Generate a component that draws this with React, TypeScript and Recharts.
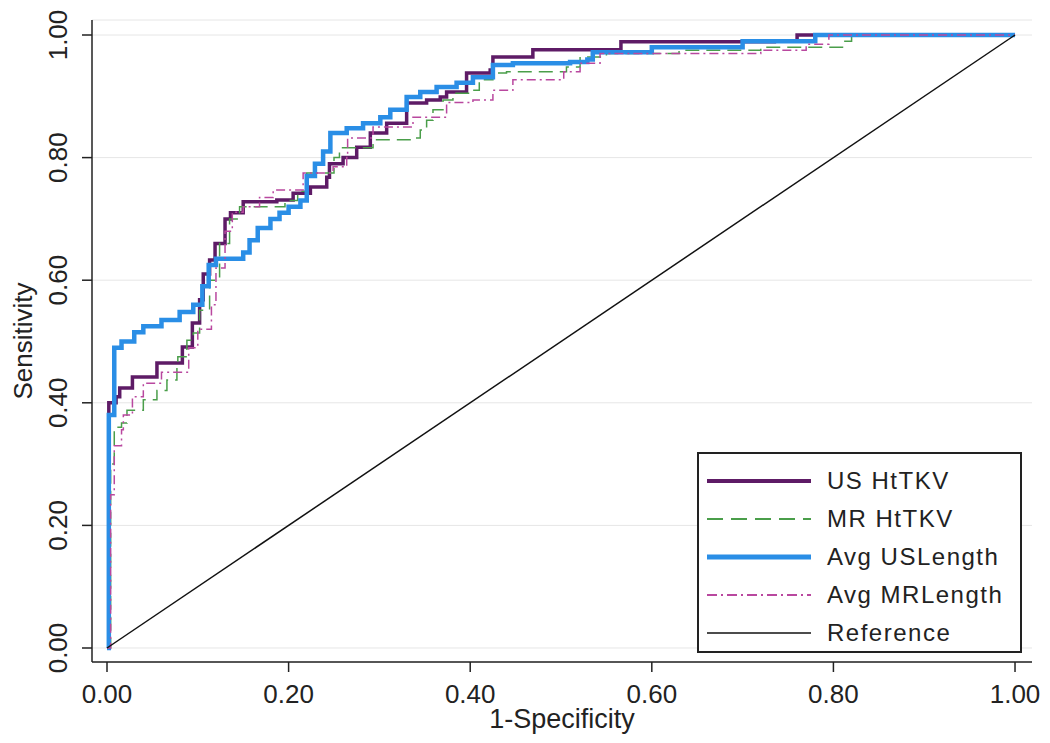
import React from 'react'
import { LineChart, Line, XAxis, YAxis, CartesianGrid, Legend, Label } from 'recharts'

// ROC points: [1-specificity, sensitivity]
const usHtTKV: [number, number][] = [
  [0, 0], [0.002, 0.4], [0.01, 0.41], [0.014, 0.424], [0.028, 0.442], [0.055, 0.465],
  [0.083, 0.491], [0.094, 0.53], [0.102, 0.568], [0.106, 0.61], [0.113, 0.633], [0.119, 0.66],
  [0.13, 0.7], [0.136, 0.71], [0.15, 0.728], [0.187, 0.731], [0.205, 0.742], [0.224, 0.752],
  [0.242, 0.768], [0.245, 0.79], [0.26, 0.8], [0.275, 0.817], [0.29, 0.84], [0.308, 0.856],
  [0.33, 0.889], [0.352, 0.894], [0.367, 0.899], [0.374, 0.907], [0.396, 0.938], [0.422, 0.943],
  [0.425, 0.964], [0.466, 0.964], [0.469, 0.976], [0.565, 0.976], [0.566, 0.989], [0.735, 0.99],
  [0.76, 1], [1, 1],
]

const mrHtTKV: [number, number][] = [
  [0, 0], [0.004, 0.3], [0.008, 0.36], [0.016, 0.367], [0.022, 0.388], [0.04, 0.405],
  [0.055, 0.42], [0.066, 0.437], [0.077, 0.458], [0.078, 0.475], [0.088, 0.502], [0.095, 0.514],
  [0.102, 0.551], [0.113, 0.6], [0.124, 0.66], [0.135, 0.7], [0.146, 0.72], [0.168, 0.72],
  [0.196, 0.73], [0.21, 0.745], [0.22, 0.775], [0.25, 0.8], [0.256, 0.816], [0.293, 0.829],
  [0.337, 0.832], [0.345, 0.845], [0.352, 0.861], [0.359, 0.878], [0.37, 0.894], [0.381, 0.905],
  [0.403, 0.91], [0.41, 0.927], [0.425, 0.938], [0.44, 0.94], [0.506, 0.948], [0.521, 0.964],
  [0.55, 0.97], [0.63, 0.975], [0.72, 0.98], [0.81, 0.99], [0.82, 1], [1, 1],
]

const avgUSLength: [number, number][] = [
  [0, 0], [0.002, 0.38], [0.008, 0.49], [0.016, 0.5], [0.03, 0.515], [0.04, 0.525],
  [0.06, 0.535], [0.08, 0.548], [0.095, 0.56], [0.105, 0.59], [0.112, 0.625], [0.12, 0.635],
  [0.15, 0.645], [0.157, 0.665], [0.166, 0.685], [0.18, 0.7], [0.19, 0.71], [0.2, 0.72],
  [0.213, 0.73], [0.22, 0.77], [0.229, 0.79], [0.238, 0.81], [0.246, 0.84], [0.264, 0.848],
  [0.282, 0.856], [0.301, 0.866], [0.312, 0.878], [0.33, 0.899], [0.345, 0.907], [0.363, 0.915],
  [0.385, 0.922], [0.403, 0.931], [0.425, 0.951], [0.447, 0.954], [0.51, 0.956], [0.529, 0.96],
  [0.535, 0.972], [0.6, 0.98], [0.7, 0.99], [0.78, 1], [1, 1],
]

const avgMRLength: [number, number][] = [
  [0, 0], [0.004, 0.25], [0.008, 0.33], [0.016, 0.356], [0.018, 0.38], [0.028, 0.41],
  [0.04, 0.432], [0.06, 0.45], [0.09, 0.49], [0.1, 0.52], [0.115, 0.56], [0.12, 0.62],
  [0.13, 0.68], [0.138, 0.711], [0.15, 0.72], [0.168, 0.735], [0.183, 0.747], [0.198, 0.747],
  [0.216, 0.775], [0.249, 0.785], [0.264, 0.8], [0.265, 0.832], [0.293, 0.85], [0.337, 0.866],
  [0.374, 0.89], [0.403, 0.894], [0.425, 0.91], [0.447, 0.927], [0.488, 0.927], [0.503, 0.94],
  [0.521, 0.954], [0.543, 0.97], [0.72, 0.975], [0.77, 0.985], [0.795, 1], [1, 1],
]

const reference: [number, number][] = [[0, 0], [1, 1]]

const ticks = [0, 0.2, 0.4, 0.6, 0.8, 1]

const toRows = (pts: [number, number][]) => pts.map(([x, y]) => ({ x, y }))

const FONT = '"Liberation Sans", Arial, sans-serif'

const legendItems = [
  { name: 'US HtTKV', color: '#5e1b66', width: 4, dash: undefined },
  { name: 'MR HtTKV', color: '#4a9e4a', width: 2, dash: '16 8' },
  { name: 'Avg USLength', color: '#2a8ee6', width: 5, dash: undefined },
  { name: 'Avg MRLength', color: '#b9489f', width: 2, dash: '10 4 2 4' },
  { name: 'Reference', color: '#111', width: 1.5, dash: undefined },
]

const LegendBox = () => (
  <div style={{ border: '2px solid #222', background: '#fff', width: 325, height: 201, boxSizing: 'border-box', padding: '8px 0 0 8px' }}>
    {legendItems.map((it) => (
      <div key={it.name} style={{ display: 'flex', alignItems: 'center', height: 38 }}>
        <svg width={104} height={10} style={{ marginRight: 16 }}>
          <line x1={0} y1={5} x2={104} y2={5} stroke={it.color} strokeWidth={it.width} strokeDasharray={it.dash} />
        </svg>
        <span style={{ fontFamily: FONT, fontSize: 24, color: '#222', letterSpacing: 1.5 }}>{it.name}</span>
      </div>
    ))}
  </div>
)

const YTick = (props: any) => {
  const { y, payload } = props
  return (
    <text x={67} y={y} transform={`rotate(-90, 67, ${y})`} textAnchor="middle" fontFamily={FONT} fontSize={26} fill="#222">
      {Number(payload.value).toFixed(2)}
    </text>
  )
}

export default function App() {
  return (
    <div style={{ position: 'absolute', left: 0, top: 0, width: 1050, height: 743, background: '#fff' }}>
      <LineChart width={1050} height={743} margin={{ top: 20, right: 18, left: 0, bottom: 0 }}>
        <CartesianGrid vertical={false} stroke="#e6e6e6" />
        <XAxis
          type="number"
          dataKey="x"
          domain={[-0.01652, 1.0187]}
          ticks={ticks}
          allowDataOverflow
          height={81}
          tickSize={10}
          tickMargin={13}
          tickFormatter={(v: number) => v.toFixed(2)}
          tick={{ fontFamily: FONT, fontSize: 26, fill: '#222' }}
          stroke="#222"
          strokeWidth={1.5}
        >
          <Label
            content={({ viewBox }: any) => (
              <text x={viewBox.x + viewBox.width / 2} y={728} textAnchor="middle" fontFamily={FONT} fontSize={27} fill="#222">
                1-Specificity
              </text>
            )}
          />
        </XAxis>
        <YAxis
          type="number"
          dataKey="y"
          domain={[-0.02284, 1.02447]}
          ticks={ticks}
          allowDataOverflow
          width={92}
          tickSize={10}
          tick={<YTick />}
          stroke="#222"
          strokeWidth={1.5}
        >
          <Label
            content={({ viewBox }: any) => {
              const cy = viewBox.y + viewBox.height / 2
              return (
                <text x={32} y={cy} transform={`rotate(-90, 32, ${cy})`} textAnchor="middle" fontFamily={FONT} fontSize={26} fill="#222">
                  Sensitivity
                </text>
              )
            }}
          />
        </YAxis>
        <Legend
          layout="vertical"
          align="center"
          verticalAlign="middle"
          content={<LegendBox />}
          wrapperStyle={{ left: 697, top: 452, width: 325, height: 201 }}
        />
        <Line data={toRows(usHtTKV)} dataKey="y" name="US HtTKV" type="stepAfter" stroke="#5e1b66" strokeWidth={3.5} dot={false} activeDot={false} isAnimationActive={false} />
        <Line data={toRows(mrHtTKV)} dataKey="y" name="MR HtTKV" type="stepAfter" stroke="#4a9e4a" strokeWidth={1.5} strokeDasharray="14 7" dot={false} activeDot={false} isAnimationActive={false} />
        <Line data={toRows(avgUSLength)} dataKey="y" name="Avg USLength" type="stepAfter" stroke="#2a8ee6" strokeWidth={4.5} dot={false} activeDot={false} isAnimationActive={false} />
        <Line data={toRows(avgMRLength)} dataKey="y" name="Avg MRLength" type="stepAfter" stroke="#b9489f" strokeWidth={1.5} strokeDasharray="9 4 2 4" dot={false} activeDot={false} isAnimationActive={false} />
        <Line data={toRows(reference)} dataKey="y" name="Reference" type="linear" stroke="#111" strokeWidth={1.5} dot={false} activeDot={false} isAnimationActive={false} />
      </LineChart>
    </div>
  )
}
